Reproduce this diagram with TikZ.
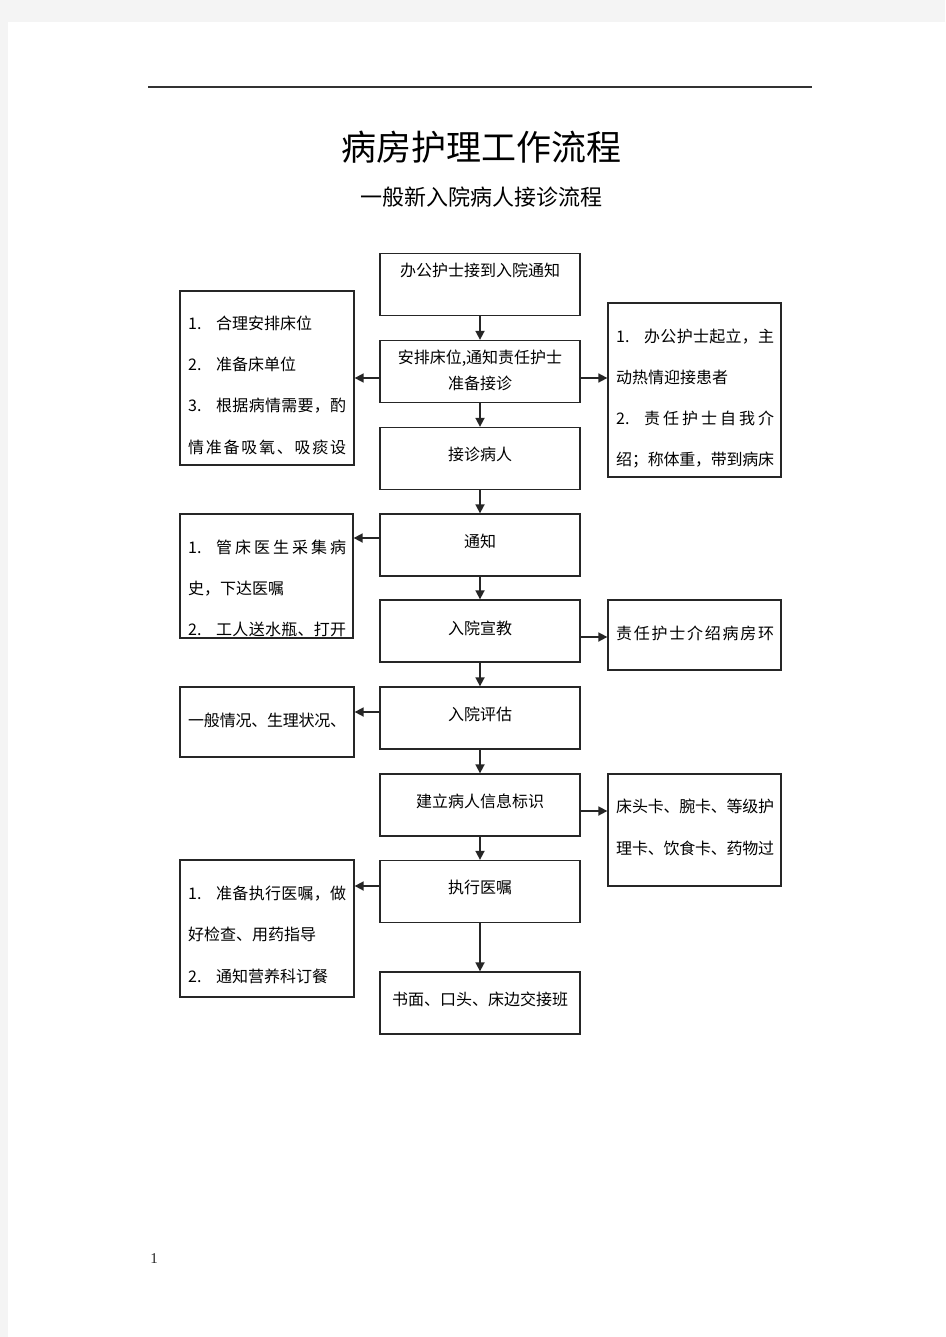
\documentclass[tikz,border=0pt]{standalone}
\usepackage{fontspec}
\setmainfont{Noto Sans CJK SC}
\newfontfamily\pnfont{Liberation Serif}
\usetikzlibrary{arrows.meta}
\makeatletter
\newcommand\spreadchars[1]{\@tfor\sc@tok:=#1\do{\sc@tok\hskip 0pt plus 1fil minus 1fil}\unskip}
\makeatother
\newcommand\jl[2]{\makebox[158pt][s]{#1\spreadchars{#2}}}
\newcommand\nb[1]{\makebox[28pt][l]{#1}}
\definecolor{pagegray}{HTML}{F4F4F4}
\begin{document}
\begin{tikzpicture}[x=1pt,y=-1pt,
  mainbox/.style={draw=black!85, line width=1.3pt, minimum width=200pt, minimum height=62pt, inner sep=0pt},
  sidebox/.style={draw=black!85, line width=1.3pt, inner sep=0pt},
  boxtext/.style={font=\fontsize{16}{19}\selectfont, inner sep=0pt, anchor=base},
  sidetext/.style={font=\fontsize{16}{19}\selectfont, inner sep=0pt, anchor=base west},
  conn/.style={draw=black!85, line width=1.7pt, -{Triangle[length=9pt,width=9pt]}}]
\useasboundingbox (0,0) rectangle (945,1337);
\fill[pagegray] (0,0) rectangle (945,1337);
\fill[white] (8,22) rectangle (945,1337);
\draw[line width=1.3pt, black!80] (148,87) -- (812,87);
\node[font=\fontsize{35}{40}\selectfont, inner sep=0pt] (title) at (481,147) {病房护理工作流程};
\node[font=\fontsize{22}{26}\selectfont, inner sep=0pt] (subtitle) at (481,197) {一般新入院病人接诊流程};
% main boxes
\node[mainbox] (b1) at (480,284.5) {};
\node[mainbox] (b2) at (480,371.5) {};
\node[mainbox] (b3) at (480,458.5) {};
\node[mainbox] (b4) at (480,545) {};
\node[mainbox] (b5) at (480,631) {};
\node[mainbox] (b6) at (480,718) {};
\node[mainbox] (b7) at (480,805) {};
\node[mainbox] (b8) at (480,891.5) {};
\node[mainbox] (b9) at (480,1003) {};
% side boxes
\node[sidebox, minimum width=174pt, minimum height=174pt] (l1) at (267,378) {};
\node[sidebox, minimum width=173pt, minimum height=174pt] (r1) at (694.5,390) {};
\node[sidebox, minimum width=173pt, minimum height=124pt] (l2) at (266.5,576) {};
\node[sidebox, minimum width=173pt, minimum height=70pt] (r2) at (694.5,635) {};
\node[sidebox, minimum width=174pt, minimum height=70pt] (l3) at (267,722) {};
\node[sidebox, minimum width=173pt, minimum height=112pt] (r3) at (694.5,830) {};
\node[sidebox, minimum width=174pt, minimum height=137pt] (l4) at (267,928.5) {};
% main texts
\node[boxtext] (t1) at (480,277) {办公护士接到入院通知};
\node[boxtext] (t2a) at (480,363) {安排床位,通知责任护士};
\node[boxtext] (t2b) at (480,389) {准备接诊};
\node[boxtext] (t3) at (480,460) {接诊病人};
\node[boxtext] (t4) at (480,547) {通知};
\node[boxtext] (t5) at (480,634) {入院宣教};
\node[boxtext] (t6) at (480,720) {入院评估};
\node[boxtext] (t7) at (480,807) {建立病人信息标识};
\node[boxtext] (t8) at (480,893) {执行医嘱};
\node[boxtext] (t9) at (480,1005) {书面、口头、床边交接班};
% side texts
\node[sidetext] (l1a) at (188,329) {\nb{1.}合理安排床位};
\node[sidetext] (l1b) at (188,370) {\nb{2.}准备床单位};
\node[sidetext] (l1c) at (188,411) {\jl{\nb{3.}}{根据病情需要，酌}};
\node[sidetext] (l1d) at (188,453) {\jl{}{情准备吸氧、吸痰设}};
\node[sidetext] (r1a) at (616,342) {\jl{\nb{1.}}{办公护士起立，主}};
\node[sidetext] (r1b) at (616,383) {动热情迎接患者};
\node[sidetext] (r1c) at (616,424) {\jl{\nb{2.}}{责任护士自我介}};
\node[sidetext] (r1d) at (616,465) {\jl{}{绍；称体重，带到病床}};
\node[sidetext] (l2a) at (188,553) {\jl{\nb{1.}}{管床医生采集病}};
\node[sidetext] (l2b) at (188,594) {史，下达医嘱};
\node[sidetext] (l2c) at (188,635) {\jl{\nb{2.}}{工人送水瓶、打开}};
\node[sidetext] (r2a) at (616,639) {\jl{}{责任护士介绍病房环}};
\node[sidetext] (l3a) at (188,726) {\jl{}{一般情况、生理状况、}};
\node[sidetext] (r3a) at (616,812) {\jl{}{床头卡、腕卡、等级护}};
\node[sidetext] (r3b) at (616,854) {\jl{}{理卡、饮食卡、药物过}};
\node[sidetext] (l4a) at (188,899) {\jl{\nb{1.}}{准备执行医嘱，做}};
\node[sidetext] (l4b) at (188,940) {好检查、用药指导};
\node[sidetext] (l4c) at (188,982) {\nb{2.}通知营养科订餐};
% page number
\node[font=\pnfont\fontsize{15}{18}\selectfont, text=black!85, inner sep=0pt] (pn) at (154,1259) {1};
% vertical connectors
\draw[conn] (b1.south) -- (b2.north);
\draw[conn] (b2.south) -- (b3.north);
\draw[conn] (b3.south) -- (b4.north);
\draw[conn] (b4.south) -- (b5.north);
\draw[conn] (b5.south) -- (b6.north);
\draw[conn] (b6.south) -- (b7.north);
\draw[conn] (b7.south) -- (b8.north);
\draw[conn] (b8.south) -- (b9.north);
% side connectors
\draw[conn] ([yshift=-6.5pt]b2.west) -- ([yshift=-6.5pt]b2.west -| l1.east);
\draw[conn] ([yshift=-6.5pt]b2.east) -- ([yshift=-6.5pt]b2.east -| r1.west);
\draw[conn] ([yshift=7pt]b4.west) -- ([yshift=7pt]b4.west -| l2.east);
\draw[conn] ([yshift=-6pt]b5.east) -- ([yshift=-6pt]b5.east -| r2.west);
\draw[conn] ([yshift=6pt]b6.west) -- ([yshift=6pt]b6.west -| l3.east);
\draw[conn] ([yshift=-6pt]b7.east) -- ([yshift=-6pt]b7.east -| r3.west);
\draw[conn] ([yshift=5.5pt]b8.west) -- ([yshift=5.5pt]b8.west -| l4.east);
\end{tikzpicture}
\end{document}
